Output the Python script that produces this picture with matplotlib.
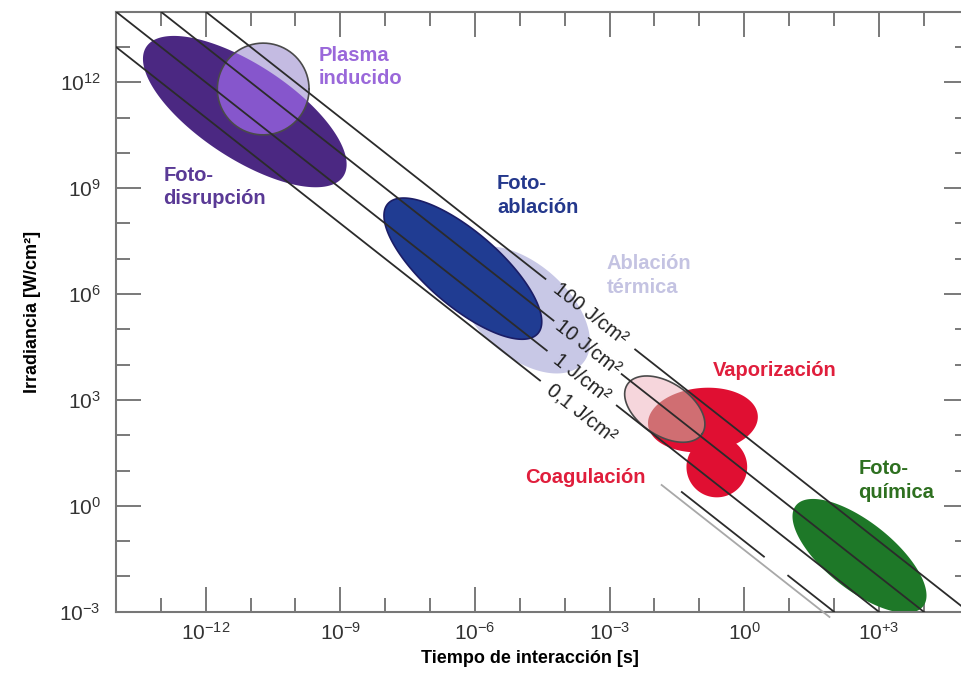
#!/usr/bin/env python3
"""Laser-tissue interaction map: irradiance vs. interaction time"""

import numpy as np
import matplotlib
matplotlib.use("Agg")
import matplotlib.pyplot as plt
from matplotlib.ticker import FixedLocator, FixedFormatter, NullFormatter

plt.rcParams['font.family'] = ['Liberation Sans', 'DejaVu Sans']

#--- data (log10 units: time in s, irradiance in W/cm2)
#
# lines of constant fluence
fluences = [100, 10, 1, 0.1]
fluence_labels = ["100 J/cm²", "10 J/cm²", "1 J/cm²", "0,1 J/cm²"]
# visible pieces of every line, as log10(t) start / end
fluence_segments = [
    [(-12.0, -4.43), (-2.43, 5.0)],
    [(-13.0, -4.25), (-2.73, 5.0)],
    [(-14.0, -4.40), (-2.84, 5.0)],
    [(-14.0, -4.55), (-1.39, 0.44), (0.98, 2.0)],
]
fluence_label_at = [-3.43, -3.49, -3.62, -3.63]
# faint extra line under the 0.1 line
faint_fluence = 10 ** -1.25
faint_segment = (-1.84, 1.9)

# regions: centre log t, centre log I, semi axes (decades of I), tilt (deg)
region_names = ["ablacion_termica", "fotoablacion", "fotodisrupcion",
                "plasma", "vaporizacion", "coagulacion", "pink", "fotoquimica"]
region_logt = [-4.93, -6.27, -11.13, -10.72, -0.92, -0.61, -1.77, 2.57]
region_logi = [5.55, 6.72, 11.17, 11.81, 2.43, 1.10, 2.74, -1.42]
region_major = [2.27, 2.81, 3.34, 1.30, 1.56, 0.86, 1.27, 2.30]
region_minor = [1.30, 1.05, 1.33, 1.30, 0.91, 0.86, 0.75, 0.96]
region_tilt = [-42.0, -40.8, -33.3, 0.0, 5.0, 0.0, -33.5, -38.4]

x_major = [-12, -9, -6, -3, 0, 3]
x_major_labels = [r"$\mathregular{10^{-12}}$", r"$\mathregular{10^{-9}}$",
                  r"$\mathregular{10^{-6}}$", r"$\mathregular{10^{-3}}$",
                  r"$\mathregular{10^{0}}$", r"$\mathregular{10^{+3}}$"]
y_major = [-3, 0, 3, 6, 9, 12]
y_major_labels = [r"$\mathregular{10^{-3}}$", r"$\mathregular{10^{0}}$",
                  r"$\mathregular{10^{3}}$", r"$\mathregular{10^{6}}$",
                  r"$\mathregular{10^{9}}$", r"$\mathregular{10^{12}}$"]


def ellipse(ax, i, n=240):
    """outline of region i in data coordinates"""
    bb = ax.get_window_extent()
    x0, x1 = np.log10(ax.get_xlim())
    y0, y1 = np.log10(ax.get_ylim())
    # pixels per x decade over pixels per y decade
    r = (bb.width / (x1 - x0)) / (bb.height / (y1 - y0))
    phi = np.linspace(0, 2 * np.pi, n)
    u = region_major[i] * np.cos(phi)
    v = region_minor[i] * np.sin(phi)
    a = np.radians(region_tilt[i])
    du = u * np.cos(a) - v * np.sin(a)
    dv = u * np.sin(a) + v * np.cos(a)
    return 10 ** (region_logt[i] + du / r), 10 ** (region_logi[i] + dv)


fig = plt.figure(figsize=(9.62, 6.73), dpi=100)
ax = fig.add_axes([0.1206, 0.0911, 0.8862, 0.8915])
ax.set_xscale('log')
ax.set_yscale('log')
ax.set_xlim(1e-14, 1e5)
ax.set_ylim(1e-3, 1e14)

idx = {n: k for k, n in enumerate(region_names)}
edge = '#4a4a4a'

# ablation group
x, y = ellipse(ax, idx["ablacion_termica"])
ax.fill(x, y, color='#c8c8e6', lw=0, zorder=1)
x, y = ellipse(ax, idx["fotoablacion"])
ax.fill(x, y, facecolor='#203c92', edgecolor='#1b1d66', lw=1.2, zorder=2)

# photodisruption + induced plasma
x, y = ellipse(ax, idx["fotodisrupcion"])
disr = ax.fill(x, y, color='#4b2882', lw=0, zorder=2)[0]
x, y = ellipse(ax, idx["plasma"])
ax.fill(x, y, color='#c4bbe2', lw=0, zorder=3)
ov = ax.fill(x, y, color='#8656cc', lw=0, zorder=3)[0]
ov.set_clip_path(disr)
ax.plot(x, y, color=edge, lw=1.2, zorder=4)

# thermal group
x, y = ellipse(ax, idx["vaporizacion"])
vap = ax.fill(x, y, color='#e00f32', lw=0, zorder=2)[0]
x, y = ellipse(ax, idx["coagulacion"])
ax.fill(x, y, color='#e00f32', lw=0, zorder=2)
x, y = ellipse(ax, idx["pink"])
ax.fill(x, y, color='#f6d6dc', lw=0, zorder=3)
ov = ax.fill(x, y, color='#d06e72', lw=0, zorder=3)[0]
ov.set_clip_path(vap)
ax.plot(x, y, color=edge, lw=1.2, zorder=4)

# photochemistry
x, y = ellipse(ax, idx["fotoquimica"])
ax.fill(x, y, color='#1e7828', lw=0, zorder=2)

# fluence lines and their labels
p1 = ax.transData.transform((1e-6, 1e2))
p2 = ax.transData.transform((1e-3, 1e-1))
rot = np.degrees(np.arctan2(p2[1] - p1[1], p2[0] - p1[0]))
for f, segs, lbl, at in zip(fluences, fluence_segments, fluence_labels,
                            fluence_label_at):
    for s0, s1 in segs:
        t = np.logspace(s0, s1, 2)
        ax.plot(t, f / t, color='#2b2b2b', lw=1.3, zorder=5)
    ax.text(10 ** at, f / 10 ** at, lbl, rotation=rot, rotation_mode='anchor',
            ha='center', va='center', fontsize=14.5, color='#222222', zorder=6)
t = np.logspace(faint_segment[0], faint_segment[1], 2)
ax.plot(t, faint_fluence / t, color='#a8a8a8', lw=1.3, zorder=5, clip_on=False)

# region labels
lab = dict(fontsize=14.5, fontweight='bold', ha='left', va='top',
           linespacing=1.3, zorder=7)
ax.text(10 ** -9.48, 10 ** 13.03, "Plasma\ninducido", color='#9a68da', **lab)
ax.text(10 ** -12.95, 10 ** 9.63, "Foto-\ndisrupción", color='#5a3a96', **lab)
ax.text(10 ** -5.51, 10 ** 9.40, "Foto-\nablación", color='#24388c', **lab)
ax.text(10 ** -3.06, 10 ** 7.13, "Ablación\ntérmica", color='#c4c3e2', **lab)
ax.text(10 ** -0.70, 10 ** 4.10, "Vaporización", color='#e01e3c', **lab)
ax.text(10 ** -4.89, 10 ** 1.07, "Coagulación", color='#e01e3c', **lab)
ax.text(10 ** 2.54, 10 ** 1.32, "Foto-\nquímica", color='#2e7020', **lab)

# axes styling
ax.xaxis.set_major_locator(FixedLocator(10.0 ** np.array(x_major)))
ax.xaxis.set_major_formatter(FixedFormatter(x_major_labels))
ax.xaxis.set_minor_locator(FixedLocator(10.0 ** np.arange(-14, 6)))
ax.xaxis.set_minor_formatter(NullFormatter())
ax.yaxis.set_major_locator(FixedLocator(10.0 ** np.array(y_major)))
ax.yaxis.set_major_formatter(FixedFormatter(y_major_labels))
ax.yaxis.set_minor_locator(FixedLocator(10.0 ** np.arange(-3, 15)))
ax.yaxis.set_minor_formatter(NullFormatter())
ax.tick_params(which='both', direction='in', top=True, right=True,
               color='#6e6e6e', width=1.3, labelsize=15, labelcolor='#333333')
ax.tick_params(which='major', length=18)
ax.tick_params(which='minor', length=10)
ax.tick_params(axis='x', which='major', pad=7)
ax.tick_params(axis='y', which='major', pad=11)
for sp in ax.spines.values():
    sp.set_color('#777777')
    sp.set_linewidth(1.5)

ax.set_xlabel("Tiempo de interacción [s]", fontsize=13, fontweight='bold')
ax.xaxis.set_label_coords(0.4856, -0.064)
ax.set_ylabel("Irradiancia [W/cm²]", fontsize=13, fontweight='bold')
ax.yaxis.set_label_coords(-0.088, 0.5)

fig.savefig("out.png", dpi=100)
